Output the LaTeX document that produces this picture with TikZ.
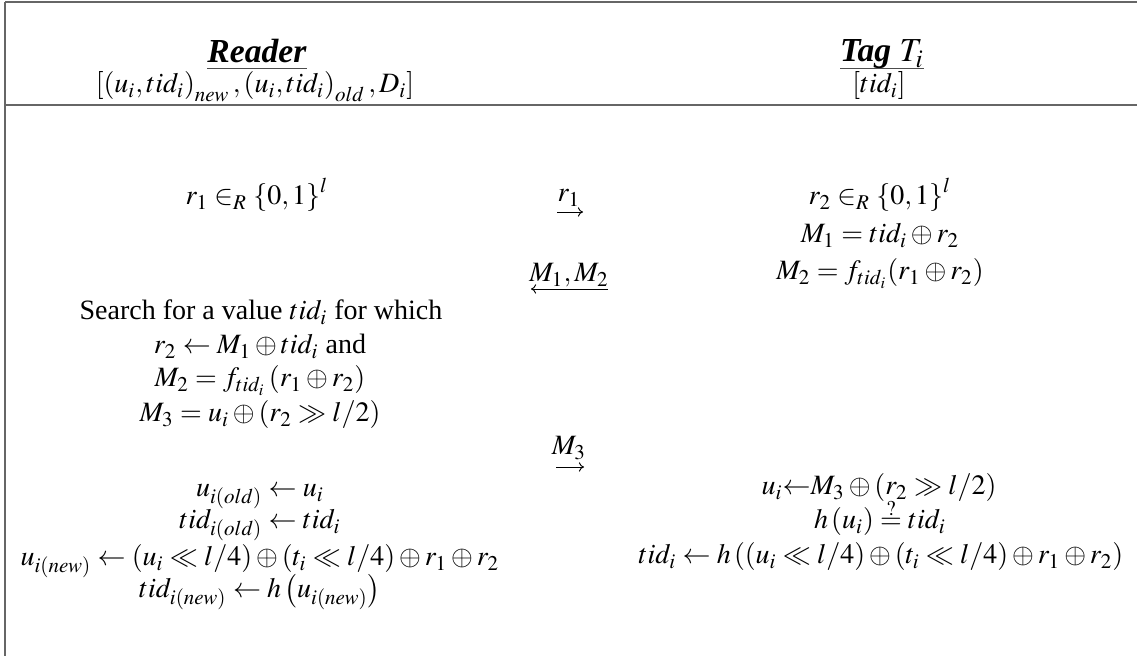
\documentclass[tikz,border=0pt]{standalone}
\usepackage{mathptmx}
\usepackage{fontspec}
\setmainfont{Liberation Serif}
\usetikzlibrary{arrows.meta,calc}
\newcommand{\qeqmark}{\mathrel{\ooalign{$=$\cr\hidewidth\raisebox{5.6pt}{$\scriptstyle ?$}\hidewidth\cr}}}
\tikzset{
  txt/.style={anchor=base, inner sep=0pt, outer sep=0pt, font=\fontsize{12}{14.4}\selectfont},
  hdr/.style={anchor=base, inner sep=0pt, outer sep=0pt, font=\fontsize{14.4}{17}\selectfont},
  frame/.style={draw=black!60, line width=0.75pt},
  uline/.style={draw=black!70, line width=0.55pt},
  msg/.style={line width=0.4pt, -{To[length=2.2pt,width=4pt]}},
}
\begin{document}
\begin{tikzpicture}[x=0.428571pt, y=-0.428571pt]
\useasboundingbox (0,0) rectangle (1137,656);
% frame
\draw[frame] (5,2) -- (1137,2);
\draw[frame] (5,2) -- (5,656);
\draw[frame] (5,105) -- (1137,105);
% headers
\node[hdr] (rdr) at (257,63) {\textbf{\textit{Reader}}};
\draw[uline] ($(rdr.base west)+(0,5.5)$) -- ($(rdr.base east)+(0,5.5)$);
\node[txt] (rdrd) at (255,93) {$\left[\left(u_i,tid_i\right)_{new},\left(u_i,tid_i\right)_{old},D_i\right]$};
\node[hdr] (tag) at (882,62) {\textbf{\textit{Tag}} $T_i$};
\draw[uline] ($(tag.base west)+(0,6.5)$) -- ($(tag.base east)+(0,6.5)$);
\node[txt] (tagd) at (879,93) {$\left[tid_i\right]$};
% left column
\node[txt] (l1) at (257,205) {$r_1 \in_R \left\{0,1\right\}^l$};
\node[txt] (l2) at (261,320) {Search for a value $tid_i$ for which};
\node[txt] (l3) at (260,354) {$r_2 \leftarrow M_1 \oplus tid_i$ and};
\node[txt] (l4) at (260,387) {$M_2 = f_{tid_i}\left(r_1 \oplus r_2\right)$};
\node[txt] (l5) at (260,422) {$M_3 = u_i \oplus (r_2 \gg l/2)$};
\node[txt] (l6) at (260,497) {$u_{i(old)} \leftarrow u_i$};
\node[txt] (l7) at (260,529) {$tid_{i(old)} \leftarrow tid_i$};
\node[txt] (l8) at (260,566) {$u_{i(new)} \leftarrow (u_i \ll l/4) \oplus (t_i \ll l/4) \oplus r_1 \oplus r_2$};
\node[txt] (l9) at (260,598) {$tid_{i(new)} \leftarrow h\left(u_{i(new)}\right)$};
% right column
\node[txt] (r1) at (880,205) {$r_2 \in_R \left\{0,1\right\}^l$};
\node[txt] (r2) at (880,243) {$M_1 = tid_i \oplus r_2$};
\node[txt] (r3) at (880,280) {$M_2 = f_{tid_i}(r_1 \oplus r_2)$};
\node[txt] (r4) at (879,495) {$u_i{\leftarrow}M_3 \oplus (r_2 \gg l/2)$};
\node[txt] (r5) at (880,529) {$h\left(u_i\right) \qeqmark tid_i$};
\node[txt] (r6) at (881,564) {$tid_i \leftarrow h\left(\left(u_i \ll l/4\right) \oplus (t_i \ll l/4) \oplus r_1 \oplus r_2\right)$};
% messages
\node[txt] (m1) at (569,202) {$r_1$};
\coordinate (m1a) at (557,212);
\coordinate (m1b) at (583,212);
\draw[msg] (m1a) -- (m1b);
\node[txt] (m2) at (569,282) {$M_1,M_2$};
\coordinate (m2a) at (608,289);
\coordinate (m2b) at (531,289);
\draw[msg] (m2a) -- (m2b);
\node[txt] (m3) at (569,455) {$M_3$};
\coordinate (m3a) at (556,467);
\coordinate (m3b) at (584,467);
\draw[msg] (m3a) -- (m3b);
\end{tikzpicture}
\end{document}
